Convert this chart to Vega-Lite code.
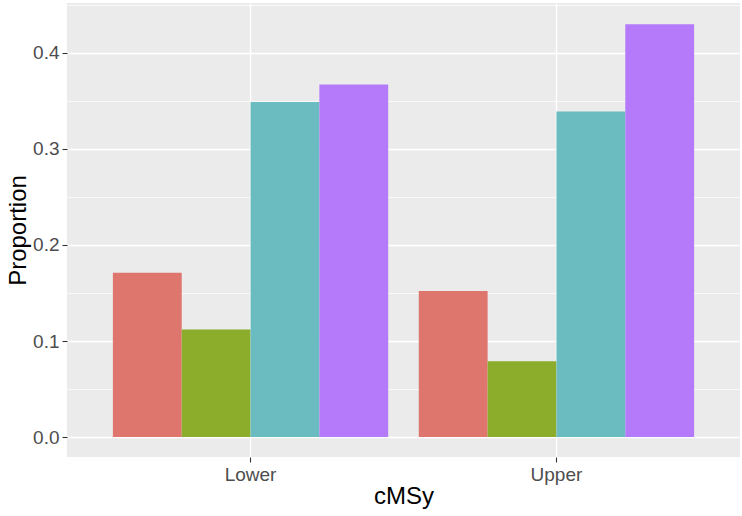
{
  "$schema": "https://vega.github.io/schema/vega-lite/v6.json",
  "autosize": {"type": "none"},
  "width": 673,
  "height": 454,
  "padding": {"left": 67, "top": 3, "right": 2, "bottom": 59},
  "background": "white",
  "config": {
    "view": {"fill": "#EBEBEB", "stroke": null},
    "font": "Liberation Sans",
    "axis": {
      "domain": false,
      "gridColor": "white",
      "tickColor": "#333333",
      "tickSize": 5,
      "tickWidth": 1.1,
      "labelColor": "#4D4D4D",
      "labelFontSize": 19,
      "labelPadding": 3,
      "titleFontSize": 24,
      "titleFontWeight": "normal",
      "titleColor": "black"
    }
  },
  "data": {
    "values": [
      {"cMSy": "Lower", "group": "A", "proportion": 0.171},
      {"cMSy": "Lower", "group": "B", "proportion": 0.112},
      {"cMSy": "Lower", "group": "C", "proportion": 0.349},
      {"cMSy": "Lower", "group": "D", "proportion": 0.367},
      {"cMSy": "Upper", "group": "A", "proportion": 0.152},
      {"cMSy": "Upper", "group": "B", "proportion": 0.079},
      {"cMSy": "Upper", "group": "C", "proportion": 0.339},
      {"cMSy": "Upper", "group": "D", "proportion": 0.430}
    ]
  },
  "mark": {"type": "bar"},
  "encoding": {
    "x": {
      "field": "cMSy",
      "type": "nominal",
      "title": "cMSy",
      "scale": {"paddingInner": 0.1, "paddingOuter": 0.15},
      "axis": {"labelAngle": 0, "grid": true, "gridWidth": 1.4, "titlePadding": 0}
    },
    "xOffset": {"field": "group", "type": "nominal", "scale": {"paddingInner": 0, "paddingOuter": 0}},
    "y": {
      "field": "proportion",
      "type": "quantitative",
      "title": "Proportion",
      "scale": {"domain": [-0.0208, 0.452], "nice": false, "zero": false},
      "axis": {
        "values": [0, 0.05, 0.1, 0.15, 0.2, 0.25, 0.3, 0.35, 0.4, 0.45],
        "labelExpr": "round(datum.value*100) % 10 == 0 ? format(datum.value, '.1f') : ''",
        "gridWidth": {"condition": {"test": "round(datum.value*100) % 10 != 0", "value": 0.7}, "value": 1.4},
        "tickOpacity": {"condition": {"test": "round(datum.value*100) % 10 != 0", "value": 0}, "value": 1},
        "titlePadding": 2
      }
    },
    "color": {
      "field": "group",
      "type": "nominal",
      "legend": null,
      "scale": {"domain": ["A", "B", "C", "D"], "range": ["#DE766D", "#8BAD2B", "#6BBCC0", "#B47AFA"]}
    }
  }
}
